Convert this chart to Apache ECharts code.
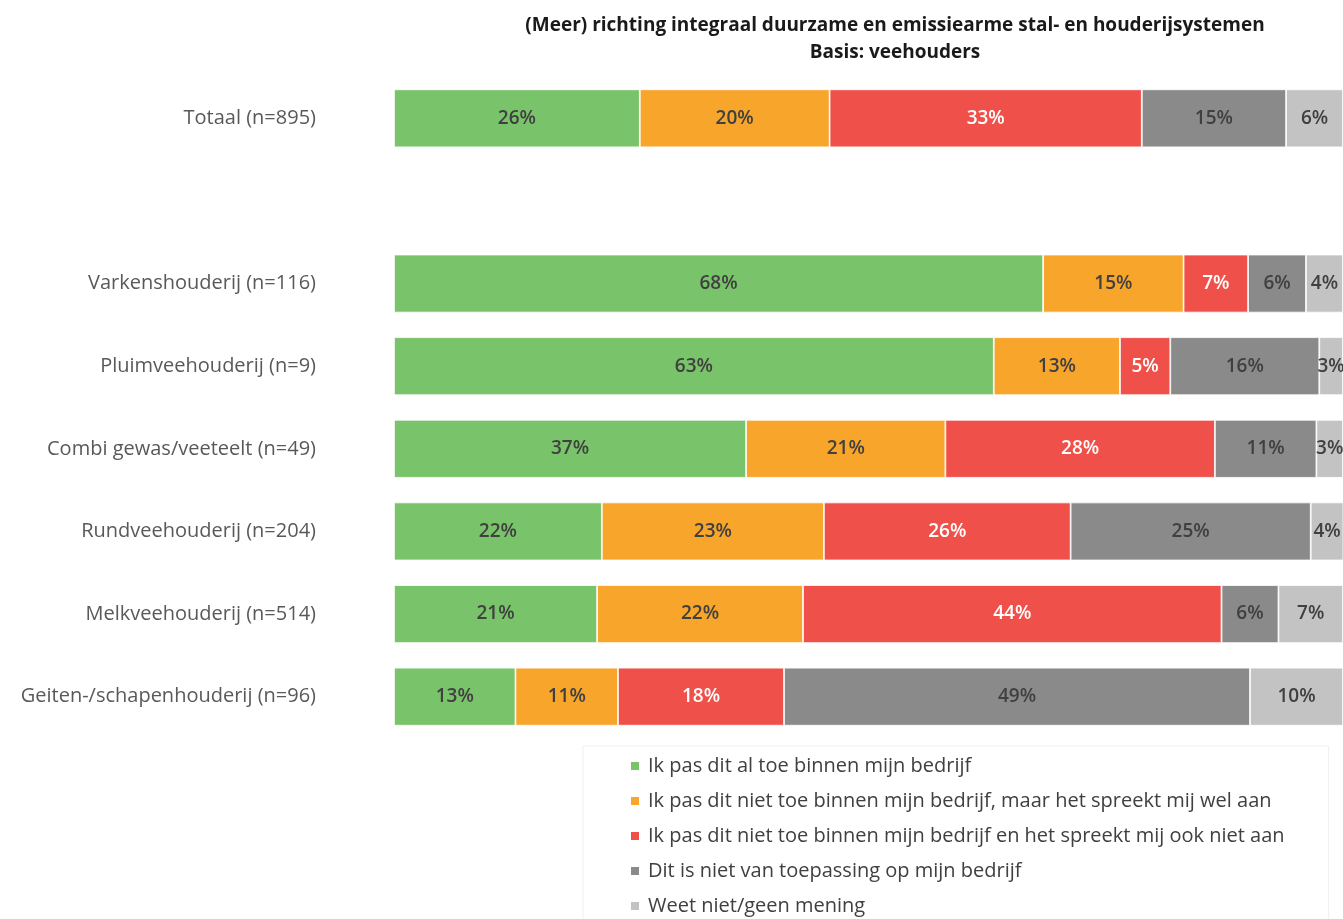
<!DOCTYPE html>
<html>
<head>
<meta charset="utf-8">
<script src="https://cdn.jsdelivr.net/npm/echarts@6/dist/echarts.min.js"></script>
<style>
  html, body { margin: 0; padding: 0; background: #fff; }
  #chart { width: 1343px; height: 919px; }
</style>
</head>
<body>
<div id="chart"></div>
<script>
// categories, top to bottom (empty slot = gap under Totaal)
const categories = [
    'Totaal (n=895)',
    '',
    'Varkenshouderij (n=116)',
    'Pluimveehouderij (n=9)',
    'Combi gewas/veeteelt (n=49)',
    'Rundveehouderij (n=204)',
    'Melkveehouderij (n=514)',
    'Geiten-/schapenhouderij (n=96)'
];

const seriesNames = [
    'Ik pas dit al toe binnen mijn bedrijf',
    'Ik pas dit niet toe binnen mijn bedrijf, maar het spreekt mij wel aan',
    'Ik pas dit niet toe binnen mijn bedrijf en het spreekt mij ook niet aan',
    'Dit is niet van toepassing op mijn bedrijf',
    'Weet niet/geen mening'
];

// percentages per answer (same order as categories)
const alToe      = [25.9, null, 68.4, 63.2, 37.1, 21.9, 21.4, 12.8];
const welAan     = [20.0, null, 14.8, 13.3, 21.0, 23.4, 21.7, 10.8];
const nietAan    = [32.9, null, 6.8, 5.3, 28.4, 26.0, 44.1, 17.5];
const nvt        = [15.2, null, 6.1, 15.7, 10.7, 25.3, 6.0, 49.1];
const weetNiet   = [6.0, null, 3.9, 2.5, 2.8, 3.5, 6.8, 9.8];

const colors = {
    green: '#79C36A',
    orange: '#F8A52B',
    red: '#F0504A',
    dark: '#8A8A8A',
    light: '#C3C3C3'
};

const chart = echarts.init(document.getElementById('chart'));

function makeSeries(name, data, color, labelColor) {
    return {
        name: name,
        type: 'bar',
        stack: 'total',
        data: data,
        barWidth: 58,
        itemStyle: { color: color, borderColor: '#ffffff', borderWidth: 0.8 },
        label: {
            show: true,
            position: 'inside',
            color: labelColor,
            fontFamily: 'Open Sans',
            fontWeight: 600,
            fontSize: 19,
            formatter: p => (p.value == null ? '' : Math.round(p.value) + '%')
        }
    };
}

const option = {
    backgroundColor: '#ffffff',
    title: {
        text: '(Meer) richting integraal duurzame en emissiearme stal- en houderijsystemen\nBasis: veehouders',
        left: 890,
        top: 7,
        textAlign: 'center',
        textStyle: {
            fontFamily: 'Open Sans',
            fontWeight: 'bold',
            fontSize: 19,
            lineHeight: 27,
            color: '#1a1a1a'
        }
    },
    grid: {
        left: 394,
        width: 950,
        top: 77,
        height: 661
    },
    legend: {
        orient: 'vertical',
        left: 583,
        top: 746,
        height: 220,
        padding: [10, 44, 12, 46],
        borderColor: '#f0f0f0',
        borderWidth: 1,
        itemWidth: 10,
        itemHeight: 10,
        itemGap: 15,
        icon: 'rect',
        textStyle: {
            fontFamily: 'Open Sans',
            fontSize: 20,
            color: '#404040',
            padding: [0, 0, 0, 3]
        },
        data: seriesNames
    },
    xAxis: {
        type: 'value',
        min: 0,
        max: 100,
        show: false
    },
    yAxis: {
        type: 'category',
        inverse: true,
        data: categories,
        axisLine: { show: false },
        axisTick: { show: false },
        axisLabel: {
            margin: 78,
            fontFamily: 'Open Sans',
            fontSize: 20,
            color: '#595959'
        }
    },
    series: [
        makeSeries(seriesNames[0], alToe, colors.green, '#404040'),
        makeSeries(seriesNames[1], welAan, colors.orange, '#404040'),
        makeSeries(seriesNames[2], nietAan, colors.red, '#ffffff'),
        makeSeries(seriesNames[3], nvt, colors.dark, '#404040'),
        makeSeries(seriesNames[4], weetNiet, colors.light, '#404040')
    ]
};

chart.setOption(option);
window.addEventListener('resize', () => chart.resize());
</script>
</body>
</html>
